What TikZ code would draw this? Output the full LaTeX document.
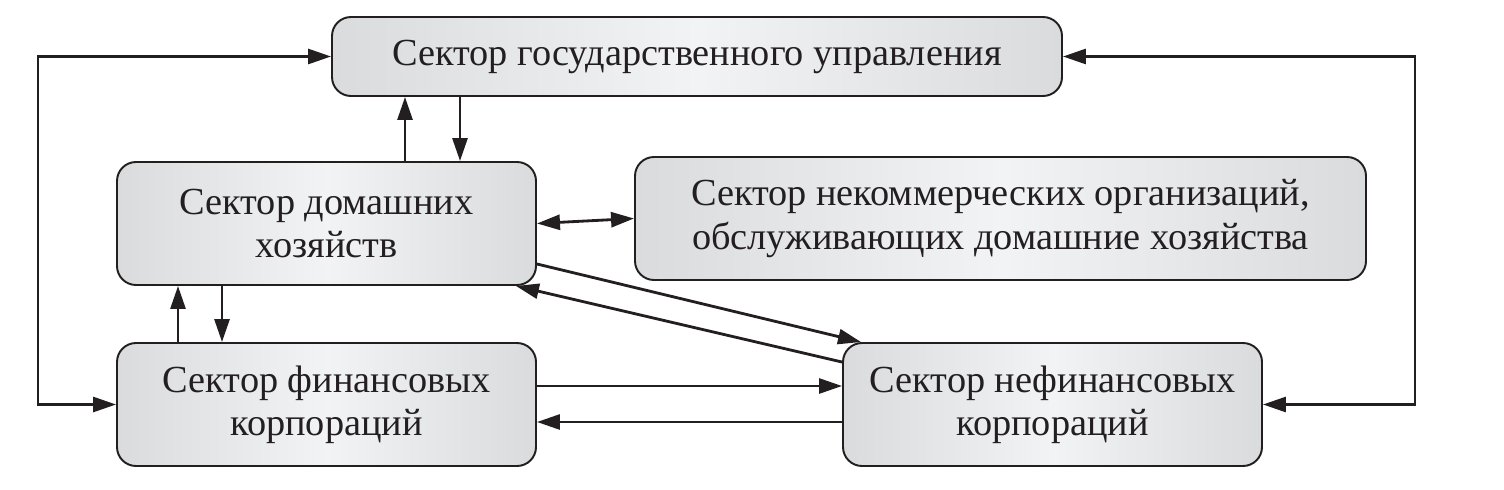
\documentclass[tikz,border=0pt]{standalone}
\usepackage{fontspec}
\setmainfont{Liberation Serif}
\usetikzlibrary{arrows.meta}
\definecolor{ink}{HTML}{231F20}
\definecolor{boxgray}{HTML}{DADBDD}
\definecolor{boxlight}{HTML}{F2F3F4}
\begin{document}
\begin{tikzpicture}[every node/.style={draw=ink, line width=1.1pt, rounded corners=0.38cm,
		left color=boxgray, right color=boxgray, middle color=boxlight,
		text=ink, align=center, font=\fontsize{21.8}{24.5}\selectfont},
	flow/.style={draw=ink, line width=1.6pt, -{Triangle[length=4.6mm, width=3mm]}},
	both/.style={flow, {Triangle[length=4.6mm, width=3mm]}-{Triangle[length=4.6mm, width=3mm]}}]
	
	\useasboundingbox (0,0) rectangle (30.08,9.78);
	
	\node[minimum width=14.6cm, minimum height=1.58cm] (1) at (13.94,8.65) {Сектор государственного управления};
	\node[minimum width=8.38cm, minimum height=2.46cm] (2) at (6.53,5.31) {Сектор домашних\\хозяйств};
	\node[minimum width=14.62cm, minimum height=2.46cm] (3) at (20.01,5.41) {Сектор некоммерческих организаций,\\обслуживающих домашние хозяйства};
	\node[minimum width=8.38cm, minimum height=2.46cm] (4) at (6.53,1.69) {Сектор финансовых\\корпораций};
	\node[minimum width=8.38cm, minimum height=2.46cm] (5) at (21.05,1.69) {Сектор нефинансовых\\корпораций};
	
	\coordinate (l) at (0.76,5);
	\coordinate (r) at (28.3,5);
	
	\draw[both] (1.west) -| (l) |- (4.west);
	\draw[both] (1.east) -| (r) |- (5.east);
	
	\path ([xshift=1.57cm]2.north) edge[flow] ([xshift=1.57cm]2.north |- 1.south);
	\path ([xshift=2.67cm]2.north |- 1.south) edge[flow] ([xshift=2.67cm]2.north);
	\path (2.east) edge[both] (3.west);
	\path ([xshift=-2.97cm]4.north) edge[flow] ([xshift=-2.97cm]2.south);
	\path ([xshift=-2.09cm]2.south) edge[flow] ([xshift=-2.09cm]4.north);
	\path ([yshift=0.37cm]4.east) edge[flow] ([yshift=0.37cm]5.west);
	\path ([yshift=-0.35cm]5.west) edge[flow] ([yshift=-0.35cm]4.east);
	\path ([yshift=-0.81cm]2.east) edge[flow] ([xshift=0.38cm]5.north west);
	\path ([yshift=-0.4cm]5.north west) edge[flow] ([xshift=-0.42cm]2.south east);
	
\end{tikzpicture}
\end{document}
